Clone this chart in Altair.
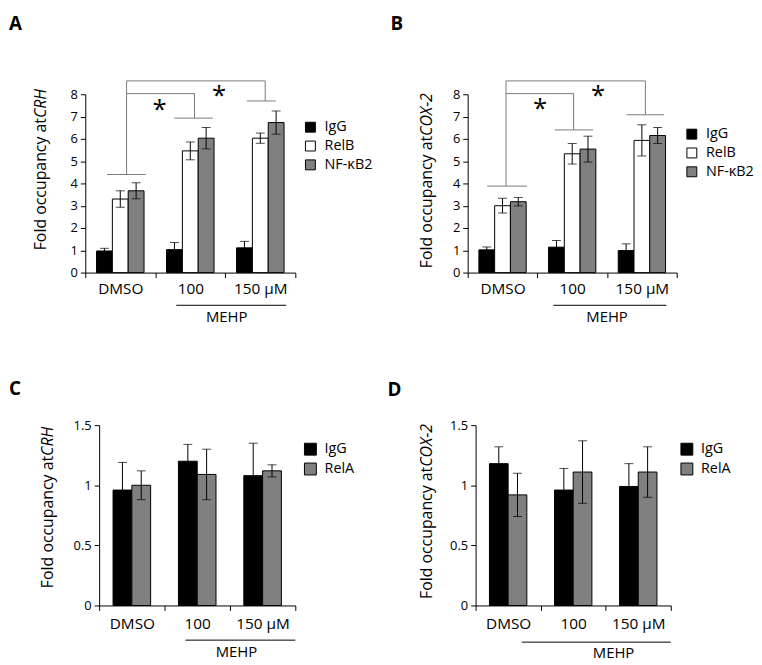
import altair as alt
import pandas as pd

FONT = "Open Sans"
categories = ["DMSO", "100", "150 µM"]

# ---------------- Panel A : CRH (IgG / RelB / NF-kB2) ----------------
ab_series = ["IgG", "RelB", "NF-κB2"]
ab_colors = ["#000000", "#ffffff", "#808080"]
a_igg = [0.97, 1.03, 1.11]
a_igg_err = [0.12, 0.32, 0.29]
a_relb = [3.30, 5.46, 6.03]
a_relb_err = [0.37, 0.40, 0.23]
a_nfkb2 = [3.67, 6.03, 6.73]
a_nfkb2_err = [0.36, 0.48, 0.52]

# ---------------- Panel B : COX-2 (IgG / RelB / NF-kB2) ----------------
b_igg = [1.02, 1.14, 0.99]
b_igg_err = [0.13, 0.30, 0.30]
b_relb = [3.00, 5.33, 5.93]
b_relb_err = [0.33, 0.46, 0.70]
b_nfkb2 = [3.18, 5.54, 6.15]
b_nfkb2_err = [0.19, 0.58, 0.36]

# ---------------- Panel C : CRH (IgG / RelA) ----------------
cd_series = ["IgG", "RelA"]
cd_colors = ["#000000", "#808080"]
c_igg = [0.96, 1.20, 1.08]
c_igg_err = [0.23, 0.14, 0.27]
c_rela = [1.00, 1.09, 1.12]
c_rela_err = [0.12, 0.21, 0.05]

# ---------------- Panel D : COX-2 (IgG / RelA) ----------------
d_igg = [1.18, 0.96, 0.99]
d_igg_err = [0.14, 0.18, 0.19]
d_rela = [0.92, 1.11, 1.11]
d_rela_err = [0.18, 0.26, 0.21]

# Significance brackets (x in category units 0..3, y in data units)
a_br_x = [0.31, 0.59, 0.59, 2.57, 2.31, 0.59, 1.56, 1.27]
a_br_x2 = [0.86, 0.59, 2.57, 2.57, 2.72, 1.56, 1.56, 1.82]
a_br_y = [4.40, 4.40, 8.60, 8.60, 7.70, 8.03, 8.03, 6.93]
a_br_y2 = [4.40, 8.60, 8.60, 7.70, 7.70, 8.03, 6.93, 6.93]
a_star_x = [1.06, 1.91]
a_star_y = [7.56, 8.20]

b_br_x = [0.28, 0.55, 0.55, 2.55, 2.28, 0.55, 1.52, 1.25]
b_br_x2 = [0.85, 0.55, 2.55, 2.55, 2.82, 1.52, 1.52, 1.80]
b_br_y = [3.88, 3.88, 8.60, 8.60, 7.08, 8.03, 8.03, 6.40]
b_br_y2 = [3.88, 8.60, 8.60, 7.08, 7.08, 8.03, 6.40, 6.40]
b_star_x = [1.04, 1.87]
b_star_y = [7.60, 8.20]

# MEHP underline (x range in category units) and label centre
a_mehp = [1.30, 2.87, 2.02]
b_mehp = [1.23, 2.85, 2.00]
c_mehp = [1.32, 3.00, 2.10]
d_mehp = [0.71, 3.00, 2.12]


def frame(series, values, errs):
    rows = []
    for s, vals, es in zip(series, values, errs):
        for c, v, e in zip(categories, vals, es):
            rows.append(dict(cat=c, series=s, val=v, lo=v - e, hi=v + e))
    return pd.DataFrame(rows)


def panel(df, series, colors, ymax, yvals, yfmt, w, h, pad_outer, cap,
          title_main, title_gene, title_x, title_j, letter, letter_x, letter_y,
          leg_x, leg_y, leg_pad, sym, mehp, mehp_line_dy, mehp_text_dy, label_pad,
          br=None, stars=None):
    yaxis = alt.Axis(values=yvals, format=yfmt, title=None, grid=False,
                     tickSize=5, labelFontSize=13, labelPadding=3,
                     domainColor="black", tickColor="black",
                     labelColor="black", labelFont=FONT)
    yscale = alt.Scale(domain=[0, ymax], nice=False, zero=True)

    def Y(field):
        return alt.Y(field, scale=yscale, axis=yaxis, title=None)

    x = alt.X("cat:N", sort=categories,
              scale=alt.Scale(paddingInner=0, paddingOuter=0),
              axis=alt.Axis(title=None, tickBand="extent", labelAngle=0,
                            labelFontSize=15.5, labelPadding=label_pad, tickSize=5,
                            domainColor="black", tickColor="black",
                            labelColor="black", labelFont=FONT))
    xo = alt.XOffset("series:N", sort=series,
                     scale=alt.Scale(paddingInner=0, paddingOuter=pad_outer))
    base = alt.Chart(df)
    bars = base.mark_bar(stroke="black", strokeWidth=1).encode(
        x=x, xOffset=xo, y=Y("val:Q"),
        color=alt.Color("series:N", sort=series,
                        scale=alt.Scale(domain=series, range=colors),
                        legend=alt.Legend(orient="none", legendX=leg_x - leg_pad,
                                          legendY=leg_y - leg_pad,
                                          title=None, symbolType="square",
                                          symbolSize=sym, symbolStrokeColor="black",
                                          symbolStrokeWidth=1, symbolOpacity=1,
                                          labelFontSize=14.5, labelFont=FONT,
                                          labelColor="black", labelOffset=7,
                                          rowPadding=3, padding=leg_pad)))
    err = base.mark_rule(color="black", strokeWidth=1).encode(
        x=x, xOffset=xo, y=Y("lo:Q"), y2="hi:Q")
    cap_hi = base.mark_tick(color="black", thickness=1, size=cap).encode(
        x=x, xOffset=xo, y=Y("hi:Q"))
    cap_lo = base.mark_tick(color="black", thickness=1, size=cap).encode(
        x=x, xOffset=xo, y=Y("lo:Q"))
    data_layer = alt.layer(bars, err, cap_hi, cap_lo)

    ax = alt.Scale(domain=[0, 3], nice=False, zero=False)
    annos = []
    if br is not None:
        bdf = pd.DataFrame({"x": br[0], "x2": br[1], "y": br[2], "y2": br[3]})
        annos.append(alt.Chart(bdf).mark_rule(color="#7a7a7a", strokeWidth=1).encode(
            x=alt.X("x:Q", scale=ax, axis=None), x2="x2:Q",
            y=Y("y:Q"), y2="y2:Q"))
    if stars is not None:
        sdf = pd.DataFrame({"x": stars[0], "y": stars[1], "t": ["*"] * len(stars[0])})
        annos.append(alt.Chart(sdf).mark_text(fontSize=26, font=FONT, color="black",
                                              baseline="alphabetic", dy=14).encode(
            x=alt.X("x:Q", scale=ax, axis=None), y=Y("y:Q"), text="t:N"))
    mdf = pd.DataFrame({"x": [mehp[0]], "x2": [mehp[1]], "xt": [mehp[2]], "t": ["MEHP"]})
    annos.append(alt.Chart(mdf).mark_rule(color="black", strokeWidth=1).encode(
        x=alt.X("x:Q", scale=ax, axis=None), x2="x2:Q", y=alt.value(h + mehp_line_dy)))
    annos.append(alt.Chart(mdf).mark_text(fontSize=15, font=FONT, color="black",
                                          baseline="middle").encode(
        x=alt.X("xt:Q", scale=ax, axis=None), y=alt.value(h + mehp_text_dy), text="t:N"))
    ldf = pd.DataFrame({"t": [letter]})
    annos.append(alt.Chart(ldf).mark_text(fontSize=19, fontWeight="bold", font=FONT,
                                          color="black", align="left", baseline="top").encode(
        x=alt.value(letter_x), y=alt.value(letter_y), text="t:N"))
    tdf = pd.DataFrame({"a": [title_main], "b": [title_gene]})
    annos.append(alt.Chart(tdf).mark_text(fontSize=16, font=FONT, color="black",
                                          angle=270, align="right", baseline="middle").encode(
        x=alt.value(title_x), y=alt.value(title_j), text="a:N"))
    annos.append(alt.Chart(tdf).mark_text(fontSize=16, font=FONT, color="black",
                                          fontStyle="italic", angle=270, align="left",
                                          baseline="middle").encode(
        x=alt.value(title_x), y=alt.value(title_j), text="b:N"))
    return alt.layer(data_layer, *annos).resolve_scale(x="independent").properties(
        width=w, height=h)


def spacer():
    # tiny empty view so that each row's first panel is placed by its own bounds
    return alt.Chart(pd.DataFrame({"v": [0]})).mark_rule(opacity=0).encode(
        x=alt.value(0), x2=alt.value(1), y=alt.value(0)).properties(width=1, height=1)


dfa = frame(ab_series, [a_igg, a_relb, a_nfkb2], [a_igg_err, a_relb_err, a_nfkb2_err])
dfb = frame(ab_series, [b_igg, b_relb, b_nfkb2], [b_igg_err, b_relb_err, b_nfkb2_err])
dfc = frame(cd_series, [c_igg, c_rela], [c_igg_err, c_rela_err])
dfd = frame(cd_series, [d_igg, d_rela], [d_igg_err, d_rela_err])

pa = panel(dfa, ab_series, ab_colors, 8, list(range(9)), "d", 212, 180, 0.71, 9,
           "Fold occupancy at\u00a0", "CRH", -45, 24, "A", -77, -80,
           220, 26, 18, 100, a_mehp, 33, 45, 4,
           br=(a_br_x, a_br_x2, a_br_y, a_br_y2), stars=(a_star_x, a_star_y))
pb = panel(dfb, ab_series, ab_colors, 8, list(range(9)), "d", 211, 180, 0.71, 9,
           "Fold occupancy at", "COX-2", -41, 42, "B", -78, -80,
           219, 33, 0, 100, b_mehp, 33, 45, 4,
           br=(b_br_x, b_br_x2, b_br_y, b_br_y2), stars=(b_star_x, b_star_y))
pc = panel(dfc, cd_series, cd_colors, 1.5, [0, 0.5, 1, 1.5], "~g", 198, 182, 0.74, 9,
           "Fold occupancy at\u00a0", "CRH", -52, 31, "C", -91, -45,
           206, 17, 33, 144, c_mehp, 35, 47, 6)
pd_ = panel(dfd, cd_series, cd_colors, 1.5, [0, 0.5, 1, 1.5], "~g", 197, 182, 0.74, 9,
            "Fold occupancy at", "COX-2", -49, 42, "D", -89, -44,
            206, 17, 0, 144, d_mehp, 37, 48, 6)

top = alt.hconcat(spacer(), pa, pb, spacing=0).resolve_scale(
    color="independent", xOffset="independent")
bottom = alt.hconcat(spacer(), pc, pd_, spacing=0).resolve_scale(
    color="independent", xOffset="independent")

chart = (
    alt.vconcat(top, bottom, spacing=56)
    .resolve_scale(color="independent", xOffset="independent")
    .properties(padding={"top": 4, "left": 0, "right": 0, "bottom": 0})
    .configure(font=FONT)
    .configure_view(stroke=None)
)

chart.save("out.html", embed_options={"renderer": "svg", "actions": False})
